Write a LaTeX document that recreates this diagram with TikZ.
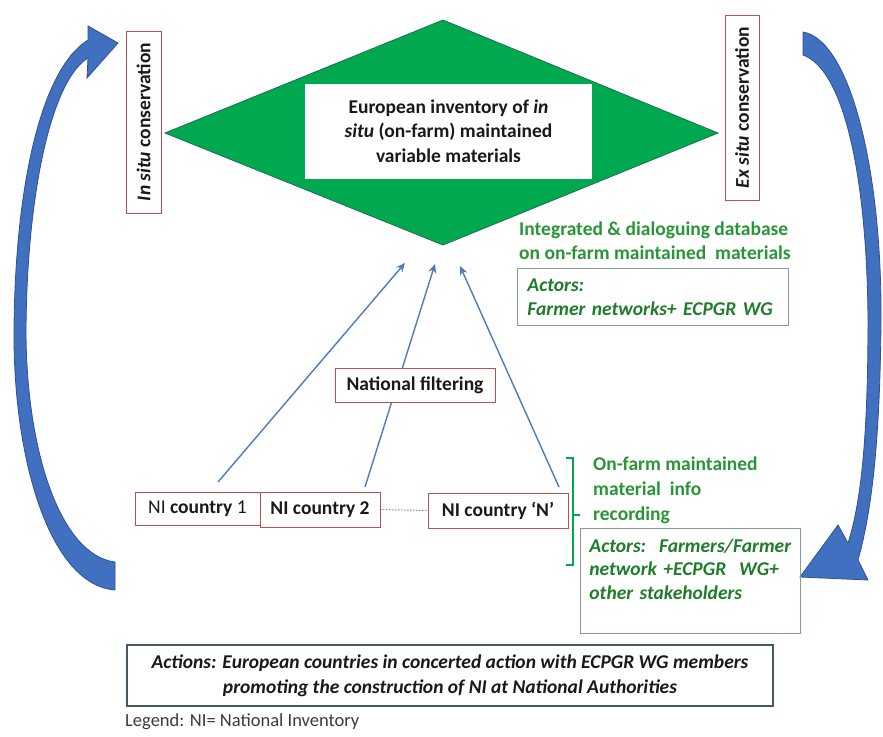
\documentclass[tikz,border=0pt]{standalone}
\usepackage{fontspec}
\setmainfont{Carlito}
\usetikzlibrary{arrows.meta,backgrounds,calc}

\definecolor{arcblue}{RGB}{66,112,192}
\definecolor{arcedge}{RGB}{44,82,150}
\definecolor{linkblue}{RGB}{78,124,186}
\definecolor{boxred}{RGB}{190,80,80}
\definecolor{invgreen}{RGB}{0,168,80}
\definecolor{invedge}{RGB}{30,110,80}
\definecolor{notegreen}{RGB}{40,150,55}
\definecolor{actgreen}{RGB}{30,125,40}
\definecolor{actframe}{RGB}{130,160,140}
\definecolor{actionframe}{RGB}{70,88,100}
\definecolor{inktext}{RGB}{25,25,25}

\begin{document}
\begin{tikzpicture}[x=1pt,y=-1pt,
  redbox/.style={draw=boxred, line width=0.8pt, fill=white, inner sep=0pt,
    text=inktext, font=\fontsize{19.5}{22}\selectfont\bfseries},
  link/.style={draw=linkblue, line width=1.4pt, -{Stealth[length=9pt,width=8pt]}},
  curvearrow/.style={fill=arcblue, draw=arcedge, line width=0.8pt},
  greennote/.style={text=notegreen, inner sep=0pt, align=left,
    font=\fontsize{19.5}{24}\selectfont\bfseries},
  actorbox/.style={draw=actframe, line width=0.9pt, inner xsep=10pt, inner ysep=0pt,
    align=left, text=actgreen, font=\fontsize{19.5}{24}\selectfont\bfseries\itshape}]

\useasboundingbox (0,0) rectangle (883,736);

% central inventory diamond
\path[fill=invgreen, draw=invedge, line width=0.8pt]
  (165,133) -- (443,20) -- (718,133) -- (443,245) -- cycle;
\node[fill=white, inner sep=0pt, minimum width=287pt, minimum height=95pt,
  align=center, text=inktext, font=\fontsize{19.5}{24.5}\selectfont\bfseries]
  (inv) at (448.5,131)
  {European inventory of \textit{in}\\\textit{situ} (on-farm) maintained\\variable materials};

% conservation labels
\node[redbox, rotate=90, minimum width=182pt, minimum height=35pt]
  (insitu) at (143.5,122) {\textit{In situ} conservation};
\node[redbox, rotate=90, minimum width=185pt, minimum height=34pt]
  (exsitu) at (742,107.5) {\textit{Ex situ} conservation};

% curved arrows on both sides
\path[curvearrow]
  (115,590) .. controls (50,585) and (13,460) .. (14,330)
  .. controls (15,190) and (40,70) .. (88,40)
  -- (88,26) -- (118,43) -- (87,78) -- (88,58)
  .. controls (52,80) and (27,190) .. (26,330)
  .. controls (26,450) and (60,555) .. (115,562) -- cycle;
\path[curvearrow]
  (803,32) .. controls (850,40) and (882,170) .. (881,320)
  .. controls (880,440) and (872,510) .. (858,560)
  -- (868,580) -- (800,577) -- (838,525) -- (848,543)
  .. controls (862,500) and (868,430) .. (868,320)
  .. controls (867,180) and (845,70) .. (803,55) -- cycle;

% national inventories
\node[redbox, minimum width=125pt, minimum height=33pt] (ni1) at (197.5,508.5)
  {\mdseries NI \bfseries country \mdseries 1};
\node[redbox, minimum width=120pt, minimum height=35pt] (ni2) at (320,509.5)
  {NI country 2};
\node[redbox, minimum width=140pt, minimum height=35pt] (nin) at (498,510.5)
  {NI country ‘N’};
\node[redbox, minimum width=160pt, minimum height=34pt] (natf) at (415,385)
  {National filtering};

\draw[dotted, line width=1pt, draw=inktext!80] (ni2.east) -- (nin.west);

% links from the national inventories up to the European inventory
\coordinate (s1) at (218,482);
\coordinate (s2) at (365,487);
\coordinate (s3) at (559,487);
\coordinate (e1) at (405,263);
\coordinate (e2) at (435,264);
\coordinate (e3) at (460,266);
\begin{pgfonlayer}{background}
  \fill[white] (0,0) rectangle (883,736);
  \draw[link] (s1) -- (e1);
  \draw[link] (s2) -- (e2);
  \draw[link] (s3) -- (e3);
\end{pgfonlayer}

% database notes
\node[greennote, anchor=north west] (db) at (519,222)
  {Integrated \& dialoguing database\\on on-farm maintained\ \ materials};
\node[actorbox, anchor=north west, minimum width=271pt, minimum height=57pt,
  text width=251pt] (act1) at (517,268)
  {Actors:\\Farmer networks+ ECPGR WG};

% on-farm recording notes
\draw[invgreen, line width=2pt] (566,458) -- (573,458) -- (573,565) -- (566,565);
\draw[invgreen, line width=2pt] (573,515) -- (580,515);
\node[greennote, anchor=north west, font=\fontsize{19.5}{25}\selectfont\bfseries]
  (rec) at (593,456.5)
  {On-farm maintained\\material\ \ info\\recording};
\node[actorbox, anchor=north west, minimum width=220pt, minimum height=105pt,
  inner xsep=9pt, text width=202pt, font=\fontsize{19.5}{23.5}\selectfont\bfseries\itshape]
  (act2) at (580,528)
  {\mbox{Actors:\ \ Farmers/Farmer}\\\mbox{network +ECPGR\ \ WG+}\\\mbox{other stakeholders}\\\mbox{}};

% actions and legend
\node[draw=actionframe, line width=1.2pt, minimum width=646pt, minimum height=61pt,
  inner sep=0pt, align=center, text=inktext,
  font=\fontsize{19.5}{25}\selectfont\bfseries\itshape] (actions) at (450,675.5)
  {Actions: European countries in concerted action with ECPGR WG members\\
   promoting the construction of NI at National Authorities};
\node[anchor=west, inner sep=0pt, text=inktext!85, font=\fontsize{18.5}{21}\selectfont]
  (legend) at (125,722) {Legend: NI= National Inventory};

\end{tikzpicture}
\end{document}
